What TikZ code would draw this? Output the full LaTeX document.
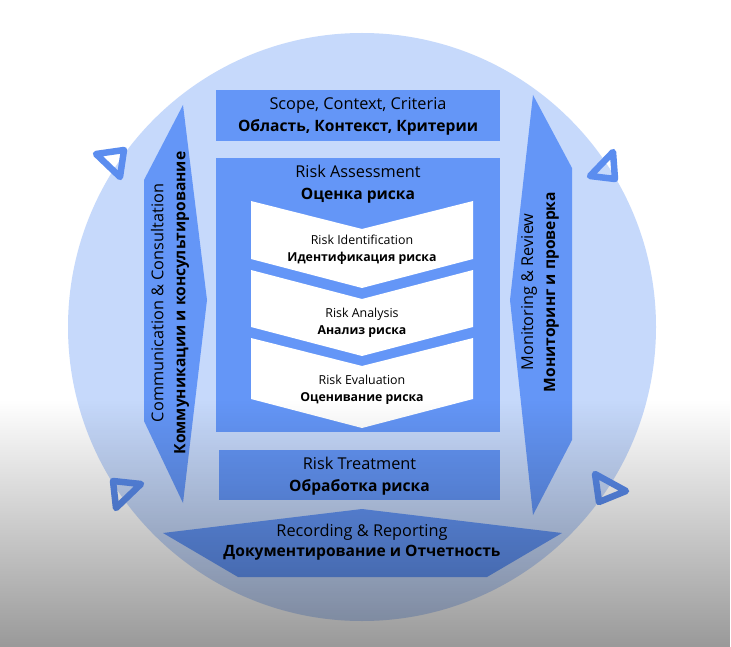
\documentclass[tikz,border=0pt]{standalone}
\usepackage{fontspec}
\setmainfont{Open Sans}
\usetikzlibrary{fadings}
\definecolor{circblue}{RGB}{198,217,251}
\definecolor{mainblue}{RGB}{100,150,247}
\definecolor{triblue}{RGB}{91,141,239}
\tikzfading[name=darkdown, top color=transparent!100, bottom color=transparent!60]
\newcommand\enbig[1]{{\fontsize{16.3}{22}\selectfont #1}}
\newcommand\rubig[1]{{\fontsize{15.6}{22}\selectfont\bfseries #1}}
\newcommand\ensm[1]{{\fontsize{12.4}{17}\selectfont #1}}
\newcommand\rusm[1]{{\fontsize{12.3}{17}\selectfont\bfseries #1}}
\tikzset{
  blueshape/.style={fill=mainblue, draw=none},
  tri/.style={draw=triblue, line width=6.5pt, line join=round, fill=none},
  lbl/.style={align=center, inner sep=0pt, font=\fontsize{15.6}{22}\selectfont},
  lblsm/.style={align=center, inner sep=0pt, font=\fontsize{12.3}{17}\selectfont},
}
\begin{document}
\begin{tikzpicture}[x=1pt,y=-1pt]
\useasboundingbox (0,0) rectangle (731,647);
\fill[white] (0,0) rectangle (731,647);
% big circle
\fill[circblue] (362,327) circle (294);
% side arrows
\fill[blueshape] (183,105) -- (207,300) -- (183,503) -- (144,421) -- (144,180) -- cycle;
\fill[blueshape] (533,95) -- (572,168) -- (572,440) -- (533,515) -- (510,300) -- cycle;
% boxes
\node[blueshape, minimum width=284, minimum height=51, inner sep=0pt] (scope) at (358,115.5) {};
\node[blueshape, minimum width=284, minimum height=274, inner sep=0pt] (assess) at (358,295) {};
\node[blueshape, minimum width=281, minimum height=50, inner sep=0pt] (treat) at (359.5,475) {};
% chevrons
\fill[white] (251,201) -- (362,229) -- (473,201) -- (473,259) -- (362,288) -- (251,259) -- cycle;
\fill[white] (251,270) -- (362,299) -- (473,270) -- (473,327) -- (362,356) -- (251,327) -- cycle;
\fill[white] (251,338) -- (362,366) -- (473,338) -- (473,399) -- (362,428) -- (251,399) -- cycle;
% bottom band
\fill[blueshape] (163,533) -- (362,509) -- (562,533) -- (487,577) -- (238,577) -- cycle;
% rotation triangles
\draw[tri] (96,154) -- (124,150) -- (120,177) -- cycle;
\draw[tri] (613,152) -- (590,176) -- (615,179) -- cycle;
\draw[tri] (113,481) -- (141,484) -- (116,508) -- cycle;
\draw[tri] (595,474) -- (626,491) -- (599,502) -- cycle;
% darkening overlay
\fill[black, path fading=darkdown] (0,400) rectangle (731,647);
% texts
\node[lbl] (scopeT) at (358,116) {\enbig{Scope, Context, Criteria}\\\rubig{Область, Контекст, Критерии}};
\node[lbl] (assessT) at (358,184) {\enbig{Risk Assessment}\\\rubig{Оценка риска}};
\node[lblsm] (identT) at (362,249.5) {\ensm{Risk Identification}\\\rusm{Идентификация риска}};
\node[lblsm] (analT) at (362,323) {\ensm{Risk Analysis}\\\rusm{Анализ риска}};
\node[lblsm] (evalT) at (362,389.5) {\ensm{Risk Evaluation}\\\rusm{Оценивание риска}};
\node[lbl] (treatT) at (359.5,476) {\enbig{Risk Treatment}\\\rubig{Обработка риска}};
\node[lbl, font=\fontsize{15.6}{20}\selectfont] (recT) at (362,542.5) {\enbig{Recording \& Reporting}\\\rubig{Документирование и Отчетность}};
\node[lbl, rotate=90] (commT) at (170,303) {\enbig{Communication \& Consultation}\\\rubig{Коммуникации и консультирование}};
\node[lbl, rotate=90] (monT) at (540,292) {\enbig{Monitoring \& Review}\\\rubig{Мониторинг и проверка}};
\end{tikzpicture}
\end{document}
